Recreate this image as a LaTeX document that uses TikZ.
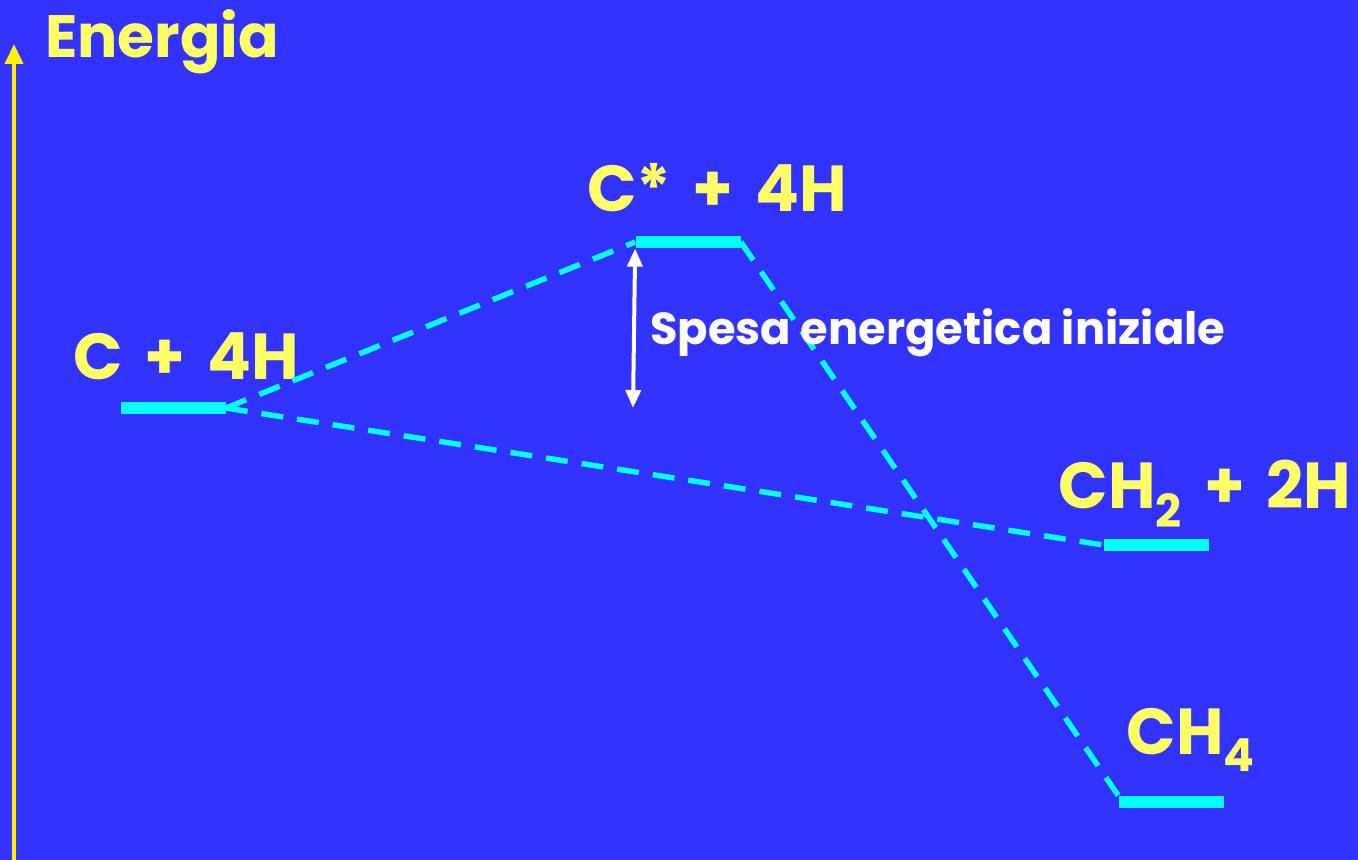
\documentclass[tikz,border=0pt]{standalone}
\usepackage{fontspec}
\setmainfont{Poppins}
\usetikzlibrary{arrows.meta}

\definecolor{bgblue}{HTML}{3333FF}
\definecolor{lvlcyan}{HTML}{00FFFF}
\definecolor{lblyellow}{HTML}{FFFF66}

\begin{document}
\begin{tikzpicture}[
  x=0.2mm,y=-0.2mm,
  level/.style={fill=lvlcyan,inner sep=0pt,minimum width=21mm,minimum height=2.5mm},
  species/.style={text=lblyellow,font=\fontsize{37}{44}\selectfont\bfseries,inner sep=1pt},
  link/.style={draw=lvlcyan,line width=1.1mm,dash pattern=on 4.4mm off 2.8mm},
  axis/.style={draw=yellow,line width=0.8mm,-{Triangle[length=4mm,width=3.6mm]}},
  spesa/.style={draw=white,line width=0.8mm,{Triangle[length=3.6mm,width=3mm]}-{Triangle[length=3.6mm,width=3mm]}},
]
% background and frame of the slide
\fill[bgblue] (0,0) rectangle (1358,860);
\useasboundingbox (0,0) rectangle (1358,860);

% energy axis
\coordinate (ybase) at (14,860);
\coordinate (ytop) at (14,44);
\draw[axis] (ybase) -- (ytop);
\node[text=lblyellow,font=\fontsize{34}{40}\selectfont\bfseries,anchor=west,inner sep=0pt]
     (energia) at (45,42) {Energia};

% the four levels
\node[level] (free) at (173,408) {};
\node[level] (exc)  at (688,242) {};
\node[level] (ch2)  at (1156,545) {};
\node[level] (ch4)  at (1171,802) {};

\node[species] (freelbl) at (186,356) {C\,\,+\,\,4H};
\node[species] (exclbl)  at (717,188) {C*\,\,+\,\,4H};
\node[species] (ch2lbl)  at (1205,494) {CH\textsubscript{2}\,\,+\,\,2H};
\node[species] (ch4lbl)  at (1191,740) {CH\textsubscript{4}};

% correlation lines
\draw[link] (free.east) -- (exc.west);
\draw[link] (free.east) -- (ch2.west);
\draw[link] (exc.east) -- (ch4.north west);

% initial promotion energy
\coordinate (spesabot) at (633,408);
\draw[spesa] (exc.south west) -- (spesabot);
\node[text=white,font=\fontsize{25.5}{30}\selectfont\bfseries,anchor=west,inner sep=0pt]
     (spesalbl) at (650,333) {Spesa energetica iniziale};
\end{tikzpicture}
\end{document}
